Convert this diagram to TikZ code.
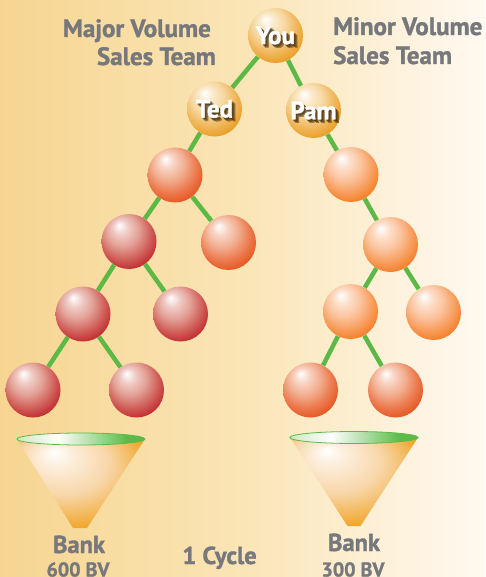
\documentclass[tikz,border=0pt]{standalone}
\usepackage{fontspec}
\setmainfont{PT Sans}[BoldFont={PT Sans Bold}, BoldFeatures={FakeBold=1.3}]
\usetikzlibrary{backgrounds}
\definecolor{bgL}{HTML}{F7D591}
\definecolor{bgM}{HTML}{FAE5B6}
\definecolor{bgR}{HTML}{FFF9F1}
\definecolor{txtgray}{HTML}{77787C}
\definecolor{edgegreen}{HTML}{5CB946}
\definecolor{shadowc}{HTML}{3B2608}
% ball colours
\definecolor{redA}{HTML}{E3A196}\definecolor{redB}{HTML}{D0605A}\definecolor{redC}{HTML}{C1272D}
\definecolor{oraA}{HTML}{F2AE90}\definecolor{oraB}{HTML}{EC7A4E}\definecolor{oraC}{HTML}{E5541F}
\definecolor{lorA}{HTML}{FBC5A0}\definecolor{lorB}{HTML}{F89E5E}\definecolor{lorC}{HTML}{F47C22}
\definecolor{golA}{HTML}{F6D7A0}\definecolor{golB}{HTML}{F0B65A}\definecolor{golC}{HTML}{E99C1E}
\definecolor{conA}{HTML}{FDF1E2}\definecolor{conB}{HTML}{F8D6A8}\definecolor{conC}{HTML}{EFA11E}
\definecolor{lidA}{HTML}{CDE8C2}\definecolor{lidB}{HTML}{5CBB48}
\newcommand\mkballshade[4]{\pgfdeclareradialshading{#1}{\pgfpoint{-9bp}{15bp}}{color(0bp)=(white); color(7bp)=(white!45!#2); color(15bp)=(#2); color(24bp)=(#3); color(32bp)=(#4); color(50bp)=(#4)}}
\mkballshade{redball}{redA}{redB}{redC}
\mkballshade{oraball}{oraA}{oraB}{oraC}
\mkballshade{lorball}{lorA}{lorB}{lorC}
\mkballshade{golball}{golA}{golB}{golC}
\pgfdeclareradialshading{coneshade}{\pgfpoint{-11bp}{18bp}}{color(0bp)=(white); color(5bp)=(conA); color(18bp)=(conB); color(33bp)=(conC); color(50bp)=(conC)}
\pgfdeclarehorizontalshading{lidshade}{100bp}{color(0bp)=(lidA); color(25bp)=(lidA); color(41bp)=(white); color(68bp)=(lidB); color(100bp)=(lidB)}
\tikzset{
  sphere/.style={circle, minimum size=55pt, inner sep=0pt, shading=#1},
  edge/.style={draw=edgegreen, line width=4.5pt},
  title/.style={font=\bfseries\fontsize{25}{25}\selectfont, text=txtgray, inner sep=0pt},
  banktxt/.style={font=\bfseries\fontsize{24.5}{24.5}\selectfont, text=txtgray, inner sep=0pt},
  bvtxt/.style={font=\bfseries\fontsize{20}{20}\selectfont, text=txtgray, inner sep=0pt},
  lbl/.style={font=\bfseries\fontsize{25}{25}\selectfont, text=white, inner sep=0pt},
  lblsh/.style={font=\bfseries\fontsize{25}{25}\selectfont, text=shadowc, text opacity=0.4, inner sep=0pt},
  cone/.style={shading=coneshade},
  lid/.style={shading=lidshade, draw=lidB, line width=0.8pt}
}
\newcommand\balllabel[2]{%
  \foreach \dx/\dy in {1.5/1.5, 2.5/2.5, 3.5/3.5}{\node[lblsh] at ([shift={(\dx,\dy)}]#1.center) {#2};}
  \node[lbl] at (#1.center) {#2};}
\begin{document}
\begin{tikzpicture}[x=1pt,y=-1pt]
\useasboundingbox (0,0) rectangle (485,577);
\begin{pgfonlayer}{background}
  \shade[left color=bgL, right color=bgR, middle color=bgM] (0,0) rectangle (485,577);
\end{pgfonlayer}
% balls
\node[sphere=golball] (you) at (275.5,35.5) {};
\node[sphere=golball] (ted) at (214.5,109) {};
\node[sphere=golball] (pam) at (313.5,110.5) {};
\node[sphere=oraball] (l1) at (175,175) {};
\node[sphere=redball] (l2a) at (129,241.5) {};
\node[sphere=oraball] (l2b) at (228.5,242.5) {};
\node[sphere=redball] (l3a) at (83,314) {};
\node[sphere=redball] (l3b) at (180.5,314) {};
\node[sphere=redball] (l4a) at (33,390) {};
\node[sphere=redball] (l4b) at (136.5,390) {};
\node[sphere=lorball] (r1) at (351,174.5) {};
\node[sphere=lorball] (r2) at (390.5,244.5) {};
\node[sphere=lorball] (r3a) at (350.5,311.5) {};
\node[sphere=lorball] (r3b) at (433.5,312.5) {};
\node[sphere=oraball] (r4a) at (310.5,390) {};
\node[sphere=oraball] (r4b) at (395.5,390) {};
% connectors
\begin{pgfonlayer}{background}
  \draw[edge] (you) -- (ted);
  \draw[edge] (you) -- (pam);
  \draw[edge] (ted) -- (l1);
  \draw[edge] (l1) -- (l2a);
  \draw[edge] (l1) -- (l2b);
  \draw[edge] (l2a) -- (l3a);
  \draw[edge] (l2a) -- (l3b);
  \draw[edge] (l3a) -- (l4a);
  \draw[edge] (l3a) -- (l4b);
  \draw[edge] (pam) -- (r1);
  \draw[edge] (r1) -- (r2);
  \draw[edge] (r2) -- (r3a);
  \draw[edge] (r2) -- (r3b);
  \draw[edge] (r3a) -- (r4a);
  \draw[edge] (r3a) -- (r4b);
\end{pgfonlayer}
% labels on balls
\balllabel{you}{You}
\balllabel{ted}{Ted}
\balllabel{pam}{Pam}
% titles
\node[title, anchor=base east] (maj1) at (211,37) {Major Volume};
\node[title, anchor=base east] (maj2) at (216,65) {Sales Team};
\node[title, anchor=base west] (min1) at (333,35) {Minor Volume};
\node[title, anchor=base west] (min2) at (333,64) {Sales Team};
% funnels
\shade[cone] (17,439) -- (145,439) -- (87,528) -- (73,528) -- cycle;
\shade[lid] (81,439) ellipse [x radius=64, y radius=6];
\shade[cone] (290,437.5) -- (418,437.5) -- (360.5,526) -- (347.5,526) -- cycle;
\shade[lid] (354,437.5) ellipse [x radius=64, y radius=6];
% bottom texts
\node[banktxt, anchor=base] (bank1) at (79,553) {Bank};
\node[bvtxt, anchor=base] (bv1) at (78,576.5) {600 BV};
\node[banktxt, anchor=base] (cycle) at (219.5,564) {1 Cycle};
\node[banktxt, anchor=base] (bank2) at (354,551) {Bank};
\node[bvtxt, anchor=base] (bv2) at (353,576.5) {300 BV};
\end{tikzpicture}
\end{document}
